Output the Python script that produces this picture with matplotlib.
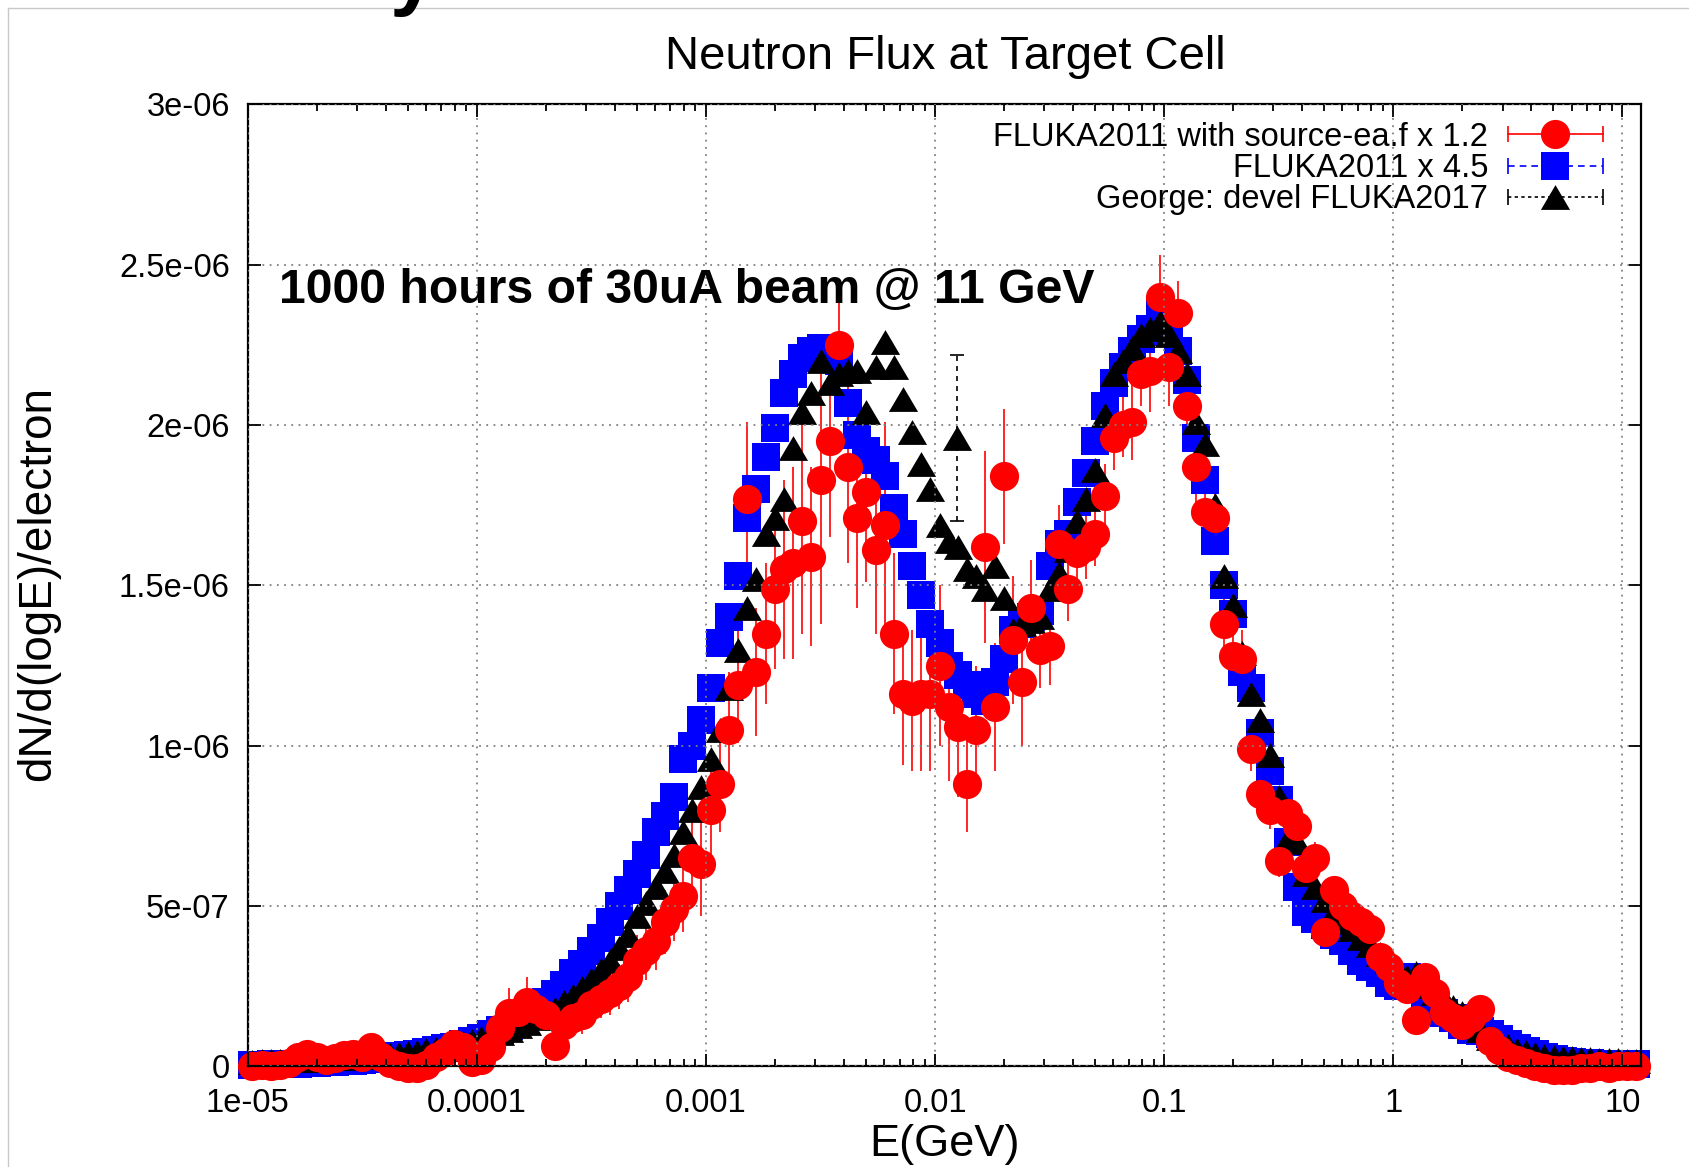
import numpy as np
import matplotlib
matplotlib.use("Agg")
import matplotlib.pyplot as plt
from matplotlib.lines import Line2D
from matplotlib.legend_handler import HandlerLine2D
from matplotlib.ticker import LogLocator, NullFormatter

plt.rcParams['font.family'] = ['Liberation Sans', 'DejaVu Sans']

# energy bin centres (GeV), 25 bins per decade starting just above 1e-5 GeV
energy = np.logspace(-4.98, 1.06, 152)

# dN/d(logE)/electron in units of 1e-7
src_ea = [0.0, 0.05, 0.0, 0.05, 0.1, 0.3, 0.4, 0.3, 0.2, 0.25,
          0.35, 0.4, 0.3, 0.6, 0.3, 0.1, 0.0, -0.05, -0.05, 0.05,
          0.3, 0.45, 0.7, 0.6, 0.15,
          0.2, 0.6, 1.2, 1.65, 1.7, 2.0, 1.8, 1.6, 0.65, 1.3,
          1.5, 1.6, 1.9, 2.1, 2.3, 2.5, 2.8, 3.3, 3.6, 3.9,
          4.5, 4.9, 5.3, 6.5, 6.3,
          8.0, 8.8, 10.5, 11.9, 17.7, 12.3, 13.5, 14.9, 15.5, 15.7,
          17.0, 15.9, 18.3, 19.5, 22.5, 18.7, 17.1, 17.9, 16.1, 16.9,
          13.5, 11.6, 11.4, 11.6, 11.6,
          12.5, 11.2, 10.6, 8.8, 10.5, 16.2, 11.2, 18.4, 13.3, 12.0,
          14.3, 13.0, 13.1, 16.3, 14.9, 16.0, 16.2, 16.6, 17.8, 19.6,
          20.0, 20.1, 21.6, 21.7, 24.0,
          21.8, 23.5, 20.6, 18.7, 17.3, 17.1, 13.8, 12.8, 12.7, 9.9,
          8.5, 8.0, 6.4, 7.9, 7.5, 6.2, 6.5, 4.2, 5.5, 5.0,
          4.7, 4.5, 4.3, 3.4, 3.1,
          2.6, 2.4, 1.45, 2.8, 2.3, 1.7, 1.5, 1.3, 1.5, 1.8,
          0.8, 0.5, 0.3, 0.2, 0.1, 0.0, -0.05, -0.1, -0.1, -0.1,
          -0.05, -0.05, 0.0, -0.05, 0.0, 0.0, 0.0]
src_ea_err = [0.1, 0.1, 0.1, 0.1, 0.1, 0.15, 0.2, 0.2, 0.15, 0.15,
              0.2, 0.2, 0.2, 0.2, 0.15, 0.15, 0.15, 0.15, 0.15, 0.2,
              0.2, 0.2, 0.3, 0.3, 0.2,
              0.3, 0.4, 0.6, 0.8, 0.5, 0.8, 0.5, 0.5, 0.4, 0.5,
              0.5, 0.6, 0.6, 0.6, 0.7, 0.7, 0.8, 0.8, 0.9, 0.9,
              1.0, 1.0, 1.1, 1.2, 1.6,
              1.5, 1.5, 1.8, 1.8, 2.4, 2.0, 2.2, 2.5, 2.8, 3.0,
              3.5, 2.8, 4.5, 3.0, 1.3, 3.0, 2.8, 2.8, 2.6, 3.2,
              2.5, 2.2, 2.2, 2.4, 2.4,
              2.5, 2.3, 2.2, 1.5, 2.0, 3.0, 2.0, 2.1, 2.0, 2.0,
              1.5, 1.2, 1.2, 1.2, 1.0, 1.2, 1.0, 1.0, 1.0, 1.0,
              1.0, 1.2, 1.0, 1.3, 1.3,
              1.2, 1.0, 1.3, 1.2, 1.0, 1.0, 0.8, 0.9, 0.9, 0.7,
              0.6, 0.6, 0.5, 0.5, 0.4, 0.5, 0.5, 0.4, 0.4, 0.4,
              0.4, 0.35, 0.35, 0.35, 0.3,
              0.3, 0.3, 0.3, 0.3, 0.3, 0.3, 0.3, 0.25, 0.3, 0.3,
              0.2, 0.2, 0.15, 0.15, 0.1, 0.1, 0.1, 0.1, 0.1, 0.1,
              0.1, 0.1, 0.1, 0.1, 0.1, 0.1, 0.1]
fluka2011 = [0.05, 0.05, 0.06, 0.07, 0.08, 0.09, 0.1, 0.12, 0.13, 0.15,
             0.16, 0.18, 0.2, 0.22, 0.25, 0.28, 0.31, 0.35, 0.4, 0.45,
             0.5, 0.56, 0.62, 0.7, 0.8,
             0.9, 1.0, 1.12, 1.25, 1.4, 1.6, 1.8, 2.0, 2.25, 2.55,
             2.9, 3.2, 3.6, 4.0, 4.5, 5.0, 5.5, 6.0, 6.6, 7.3,
             7.8, 8.4, 9.6, 10.0, 10.8,
             11.8, 13.2, 14.0, 15.3, 17.1, 18.0, 19.0, 19.9, 21.0, 21.6,
             22.1, 22.3, 22.4, 22.4, 22.0, 20.7, 19.7, 19.2, 18.9, 18.4,
             17.4, 16.6, 15.6, 14.7, 13.8,
             13.2, 12.5, 12.2, 11.9, 11.6, 11.4, 12.0, 12.7, 13.6, 13.8,
             14.0, 14.2, 15.6, 16.3, 16.6, 17.6, 18.5, 19.5, 20.6, 21.3,
             21.8, 22.3, 22.7, 23.0, 23.5,
             22.9, 22.3, 21.4, 19.6, 18.3, 16.4, 15.0, 14.1, 12.3, 11.8,
             10.4, 9.2, 8.3, 7.0, 5.6, 4.8, 4.6, 4.4, 4.1, 3.9,
             3.6, 3.3, 3.1, 2.9, 2.6,
             2.5, 2.8, 2.4, 1.9, 1.75, 1.65, 1.5, 1.3, 1.15, 1.1,
             1.0, 0.85, 0.7, 0.58, 0.48, 0.38, 0.28, 0.22, 0.17, 0.14,
             0.12, 0.1, 0.09, 0.08, 0.07, 0.06, 0.06]
george2017 = [0.15, 0.16, 0.17, 0.18, 0.19, 0.2, 0.21, 0.22, 0.23, 0.25,
              0.26, 0.28, 0.3, 0.32, 0.34, 0.36, 0.39, 0.42, 0.46, 0.5,
              0.55, 0.6, 0.66, 0.73, 0.8,
              0.9, 0.97, 1.05, 1.15, 1.25, 1.35, 1.5, 1.65, 1.8, 2.0,
              2.2, 2.45, 2.7, 3.0, 3.3, 3.7, 4.1, 4.7, 5.1, 5.6,
              6.1, 6.6, 7.3, 8.0, 8.7,
              9.6, 10.5, 11.8, 13.0, 14.3, 15.2, 16.6, 17.1, 17.7, 19.3,
              20.4, 21.0, 22.0, 21.3, 21.6, 21.7, 21.7, 20.4, 21.8, 22.6,
              21.8, 20.8, 19.8, 18.8, 18.0,
              16.9, 16.4, 16.2, 15.5, 15.3, 14.9, 15.6, 14.6, 13.6, 13.8,
              13.9, 14.0, 14.9, 15.4, 16.1, 17.0, 17.7, 18.6, 20.3, 21.6,
              22.0, 22.4, 22.8, 23.0, 23.2,
              22.8, 22.3, 21.6, 20.1, 19.4, 17.5, 15.3, 14.4, 12.9, 11.6,
              10.8, 9.7, 8.4, 7.1, 7.0, 6.0, 5.6, 5.2, 4.8, 4.5,
              4.3, 4.0, 3.8, 3.5, 3.3,
              3.0, 2.8, 2.9, 2.5, 2.3, 2.1, 1.85, 1.65, 1.4, 1.15,
              0.9, 0.75, 0.63, 0.52, 0.45, 0.38, 0.33, 0.3, 0.27, 0.25,
              0.23, 0.22, 0.21, 0.2, 0.19, 0.18, 0.17]
# the lone George point near 0.012 GeV with its long error bar
george_extra_e = [0.0125]
george_extra_y = [19.6]
george_extra_err = [2.6]

labels = ['FLUKA2011 with source-ea.f x 1.2', 'FLUKA2011 x 4.5',
          'George: devel FLUKA2017']

unit = 1e-7
MS = 21
FS = 23.5
tri = [(0, 0.85), (-1, -0.85), (1, -0.85)]

fig = plt.figure(figsize=(16.89, 11.67), dpi=100)
ax = fig.add_axes([0.1467, 0.0862, 0.8246, 0.8243])

ax.errorbar(energy, np.array(src_ea) * unit, yerr=np.array(src_ea_err) * unit,
            fmt='o', color='#ff0000', ms=MS, mew=0, elinewidth=1.2,
            capsize=4.5, capthick=1.2, clip_on=False)
ax.plot(energy, np.array(fluka2011) * unit, 's', color='#0000ff', ms=MS - 1,
        mew=0, clip_on=False)
ax.plot(energy, np.array(george2017) * unit, ls='none', marker=tri, color='black',
        ms=MS, mew=0, clip_on=False)
eb2 = ax.errorbar(george_extra_e, np.array(george_extra_y) * unit,
                  yerr=np.array(george_extra_err) * unit, fmt='none', ecolor='black',
                  elinewidth=1.2, capsize=5, capthick=1.2)
eb2[2][0].set_linestyle((0, (3, 3)))
ax.plot(george_extra_e, np.array(george_extra_y) * unit, ls='none', marker=tri,
        color='black', ms=MS, mew=0)

ax.set_xscale('log')
ax.set_xlim(1e-5, 12)
ax.set_ylim(0, 3e-6)
ax.set_xticks([1e-5, 1e-4, 1e-3, 1e-2, 1e-1, 1, 10])
ax.set_xticklabels(['1e-05', '0.0001', '0.001', '0.01', '0.1', '1', '10'])
ax.xaxis.set_minor_locator(LogLocator(base=10, subs=np.arange(2, 10)))
ax.xaxis.set_minor_formatter(NullFormatter())
ax.set_yticks(np.arange(7) * 5e-7)
ax.set_yticklabels(['0', '5e-07', '1e-06', '1.5e-06', '2e-06', '2.5e-06', '3e-06'])
ax.tick_params(which='both', direction='in', top=True, right=True,
               labelsize=FS, width=1.3, colors='black')
ax.tick_params(which='major', length=9)
ax.tick_params(which='minor', length=5)
ax.tick_params(axis='x', pad=15.5)
ax.tick_params(axis='y', pad=13)
for s in ax.spines.values():
    s.set_linewidth(1.6)
ax.grid(True, which='major', color='#808080', ls=(0, (1, 3)), lw=1.3)
ax.set_axisbelow(False)

# legend in gnuplot style: text left, error-bar sample on the right
handles = []
hmap = {}
for col, ls, mk, ms in [('#ff0000', '-', 'o', MS), ('#0000ff', (0, (4, 3)), 's', MS - 1),
                        ('black', (0, (2, 2)), tri, MS)]:
    bar = Line2D([], [], color=col, ls=ls, lw=1.2, marker='|', ms=11, mew=1.2)
    dot = Line2D([], [], color=col, ls='none', marker=mk, ms=ms, mew=0)
    hmap[bar] = HandlerLine2D(numpoints=2, marker_pad=0)
    hmap[dot] = HandlerLine2D(numpoints=1)
    handles.append((bar, dot))
ax.legend(handles, labels, handler_map=hmap, loc='upper right',
          bbox_to_anchor=(0.9727, 0.982), frameon=False, fontsize=FS,
          markerfirst=False, handlelength=2.9, handletextpad=0.6,
          labelspacing=0.01, borderpad=0, borderaxespad=0)

ax.text(0.0225, 0.807, '1000 hours of 30uA beam @ 11 GeV', transform=ax.transAxes,
        fontsize=34.7, fontweight='bold', ha='left', va='center')

fig.text(0.5595, 0.951, 'Neutron Flux at Target Cell', fontsize=34,
         ha='center', va='center')
fig.text(0.559, 0.0197, 'E(GeV)', fontsize=32.5, ha='center', va='center')
fig.text(0.0225, 0.5, 'dN/d(logE)/electron', fontsize=33, rotation=90,
         ha='center', va='center')

# edge of the slide the chart was cut from
fig.text(412 / 1689, 1.0, 'y', fontsize=60, fontweight='bold', ha='center',
         va='baseline')
fig.add_artist(Line2D([8 / 1689, 1], [1 - 8 / 1167] * 2, transform=fig.transFigure,
                      color='#c8c8c8', lw=1))
fig.add_artist(Line2D([8 / 1689] * 2, [0, 1 - 8 / 1167], transform=fig.transFigure,
                      color='#c8c8c8', lw=1))

fig.savefig('out.png', dpi=100)
